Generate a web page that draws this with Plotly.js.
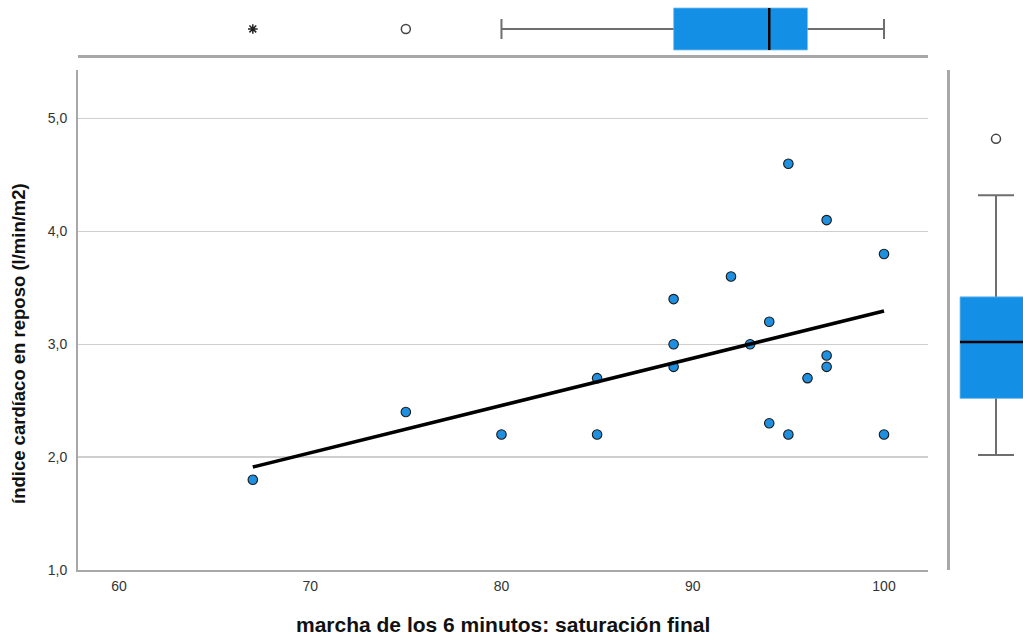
<!DOCTYPE html>
<html>
<head>
<meta charset="utf-8">
<script src="https://cdn.plot.ly/plotly-3.0.1.min.js"></script>
<style>html,body{margin:0;padding:0;background:#fff;}#chart{width:1023px;height:637px;}</style>
</head>
<body>
<div id="chart"></div>
<script>
// ---- data ----
const saturacion = [67, 75, 80, 85, 85, 89, 89, 89, 92, 93, 94, 94, 95, 95, 96, 97, 97, 97, 100, 100];
const indiceCardiaco = [1.8, 2.4, 2.2, 2.7, 2.2, 3.4, 3.0, 2.8, 3.6, 3.0, 3.2, 2.3, 4.6, 2.2, 2.7, 4.1, 2.9, 2.8, 3.8, 2.2];

// box-plot summaries (as drawn in the marginal boxplots)
const xBoxStats = {low: 80, q1: 89, med: 94, q3: 96, high: 100};
const xOutliers = [75];
const xExtremes = [67];
const yBoxStats = {low: 2.02, q1: 2.52, med: 3.02, q3: 3.42, high: 4.32};
const yOutliers = [4.82];

const xTicks = [60, 70, 80, 90, 100];
const yTicks = [1, 2, 3, 4, 5];
const xTitle = 'marcha de los 6 minutos: saturación final';
const yTitle = 'índice cardíaco en reposo (l/min/m2)';

// ---- regression line (least squares from data) ----
const n = saturacion.length;
const mx = saturacion.reduce((a, b) => a + b, 0) / n;
const my = indiceCardiaco.reduce((a, b) => a + b, 0) / n;
let sxy = 0, sxx = 0;
for (let i = 0; i < n; i++) { sxy += (saturacion[i] - mx) * (indiceCardiaco[i] - my); sxx += (saturacion[i] - mx) ** 2; }
const slope = sxy / sxx, icpt = my - slope * mx;
const xmin = Math.min(...saturacion), xmax = Math.max(...saturacion);

const W = 1023, H = 637;
const BLUE = '#1390E6';
const PT = '#1F8FE0';
const GREY = '#6e6e6e';
const AXC = '#a8a8a8';
const FONT = 'Liberation Sans, Arial, sans-serif';
const LF = 1.4; // plotly line-symbol length factor

const traces = [
  // main scatter
  {type: 'scatter', mode: 'markers', x: saturacion, y: indiceCardiaco, xaxis: 'x', yaxis: 'y',
   marker: {size: 9.5, color: PT, line: {color: '#1a1a1a', width: 1.1}}, hoverinfo: 'x+y'},
  // fit line
  {type: 'scatter', mode: 'lines', x: [xmin, xmax], y: [icpt + slope * xmin, icpt + slope * xmax], xaxis: 'x', yaxis: 'y',
   line: {color: '#000', width: 3.5}},

  // ---- top marginal box (x) ----
  {type: 'scatter', mode: 'lines', xaxis: 'x2', yaxis: 'y2',
   x: [xBoxStats.low, xBoxStats.q1, null, xBoxStats.q3, xBoxStats.high], y: [0, 0, null, 0, 0],
   line: {color: GREY, width: 2}},
  {type: 'scatter', mode: 'markers', xaxis: 'x2', yaxis: 'y2', x: [xBoxStats.low, xBoxStats.high], y: [0, 0],
   marker: {symbol: 'line-ns-open', size: 20 / LF, color: GREY, line: {color: GREY, width: 2}}},
  {type: 'bar', orientation: 'h', xaxis: 'x2', yaxis: 'y2', y: [0], x: [xBoxStats.q3 - xBoxStats.q1], base: [xBoxStats.q1], width: [1],
   marker: {color: BLUE, line: {color: '#7cc0f0', width: 0.8}}},
  {type: 'scatter', mode: 'markers', xaxis: 'x2', yaxis: 'y2', x: [xBoxStats.med], y: [0],
   marker: {symbol: 'line-ns-open', size: 42 / LF, color: '#000', line: {color: '#000', width: 2.5}}},
  {type: 'scatter', mode: 'markers', xaxis: 'x2', yaxis: 'y2', x: xOutliers, y: xOutliers.map(() => 0),
   marker: {symbol: 'circle-open', size: 9, color: '#444', line: {color: '#444', width: 1.5}}},
  {type: 'scatter', mode: 'markers', xaxis: 'x2', yaxis: 'y2', x: xExtremes, y: xExtremes.map(() => 0),
   marker: {symbol: 'asterisk-open', size: 8, color: '#222', line: {color: '#222', width: 1.5}}},

  // ---- right marginal box (y) ----
  {type: 'scatter', mode: 'lines', xaxis: 'x3', yaxis: 'y3',
   y: [yBoxStats.low, yBoxStats.q1, null, yBoxStats.q3, yBoxStats.high], x: [0, 0, null, 0, 0],
   line: {color: GREY, width: 2}},
  {type: 'scatter', mode: 'markers', xaxis: 'x3', yaxis: 'y3', y: [yBoxStats.low, yBoxStats.high], x: [0, 0],
   marker: {symbol: 'line-ew-open', size: 36 / LF, color: GREY, line: {color: GREY, width: 2}}},
  {type: 'bar', orientation: 'v', xaxis: 'x3', yaxis: 'y3', x: [0], y: [yBoxStats.q3 - yBoxStats.q1], base: [yBoxStats.q1], width: [1],
   marker: {color: BLUE, line: {color: '#7cc0f0', width: 0.8}}},
  {type: 'scatter', mode: 'markers', xaxis: 'x3', yaxis: 'y3', y: [yBoxStats.med], x: [0],
   marker: {symbol: 'line-ew-open', size: 72 / LF, color: '#000', line: {color: '#000', width: 2.5}}},
  {type: 'scatter', mode: 'markers', xaxis: 'x3', yaxis: 'y3', y: yOutliers, x: yOutliers.map(() => 0),
   marker: {symbol: 'circle-open', size: 9, color: '#444', line: {color: '#444', width: 1.5}}}
];

const mainX = [78 / W, 928 / W];
const mainY = [(H - 570) / H, (H - 70) / H];
const xRange = [57.86, 102.3];
const yRange = [1.0, 5.43];

const layout = {
  width: W, height: H,
  margin: {l: 0, r: 0, t: 0, b: 0},
  paper_bgcolor: '#fff', plot_bgcolor: 'rgba(0,0,0,0)',
  showlegend: false,
  separators: ',.',
  font: {family: FONT, size: 14, color: '#333'},
  xaxis: {domain: mainX, range: xRange, anchor: 'y', tickvals: xTicks, ticks: '', ticklabelstandoff: 2,
          showline: true, linecolor: AXC, linewidth: 2, showgrid: false, zeroline: false,
          tickfont: {family: FONT, size: 14, color: '#333'}},
  yaxis: {domain: mainY, range: yRange, anchor: 'x', tickvals: yTicks, tickformat: '.1f', ticks: '', ticklabelstandoff: 6,
          showline: true, linecolor: AXC, linewidth: 2, showgrid: true, gridcolor: '#cfcfcf', gridwidth: 1.5, zeroline: false,
          tickfont: {family: FONT, size: 14, color: '#333'}},
  xaxis2: {domain: mainX, range: xRange, anchor: 'y2', showticklabels: false, ticks: '', showgrid: false, zeroline: false,
           showline: true, linecolor: AXC, linewidth: 3, side: 'bottom'},
  yaxis2: {domain: [(H - 55) / H, 1], range: [-0.619, 0.690], anchor: 'x2', showticklabels: false, ticks: '',
           showgrid: false, zeroline: false, showline: false},
  xaxis3: {domain: [950 / W, 1], range: [-0.639, 0.375], anchor: 'y3', showticklabels: false, ticks: '',
           showgrid: false, zeroline: false, showline: false},
  yaxis3: {domain: mainY, range: yRange, anchor: 'x3', showticklabels: false, ticks: '', side: 'left',
           showgrid: false, zeroline: false, showline: true, linecolor: AXC, linewidth: 3},
  annotations: [
    {text: '<b>' + xTitle + '</b>', xref: 'paper', yref: 'paper', x: 503 / W, y: (H - 624) / H,
     xanchor: 'center', yanchor: 'middle', showarrow: false, font: {family: FONT, size: 21, color: '#111'}},
    {text: '<b>' + yTitle + '</b>', xref: 'paper', yref: 'paper', x: 18 / W, y: (H - 344) / H, textangle: -90,
     xanchor: 'center', yanchor: 'middle', showarrow: false, font: {family: FONT, size: 18.5, color: '#111'}}
  ]
};

Plotly.newPlot('chart', traces, layout, {displayModeBar: false, staticPlot: true});
</script>
</body>
</html>
